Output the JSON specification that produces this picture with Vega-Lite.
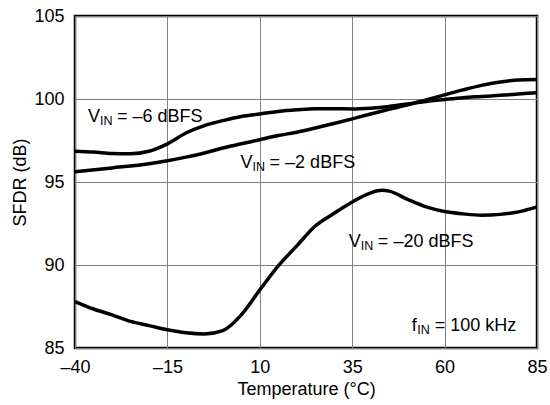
{
  "$schema": "https://vega.github.io/schema/vega-lite/v6.json",
  "width": 462,
  "height": 332,
  "autosize": "none",
  "padding": {"left": 75, "top": 16, "right": 13, "bottom": 57},
  "config": {
    "font": "Liberation Sans",
    "view": {"stroke": "black", "strokeWidth": 2.5},
    "axis": {"domain": false, "ticks": false, "grid": true, "gridColor": "#808080", "gridWidth": 1, "labelFlush": false, "labelOverlap": false, "labelFont": "Liberation Sans", "labelFontSize": 18, "labelColor": "black", "titleFont": "Liberation Sans", "titleFontSize": 18, "titleFontWeight": "normal", "titleColor": "black"}
  },
  "datasets": {
    "curves": [
      {"s": "-6", "t": -40, "v": 96.85}, {"s": "-6", "t": -35, "v": 96.8}, {"s": "-6", "t": -30, "v": 96.72}, {"s": "-6", "t": -25, "v": 96.7}, {"s": "-6", "t": -20, "v": 96.85}, {"s": "-6", "t": -15, "v": 97.3}, {"s": "-6", "t": -10, "v": 97.95}, {"s": "-6", "t": -5, "v": 98.4}, {"s": "-6", "t": 0, "v": 98.7}, {"s": "-6", "t": 5, "v": 98.95}, {"s": "-6", "t": 10, "v": 99.1}, {"s": "-6", "t": 15, "v": 99.25}, {"s": "-6", "t": 20, "v": 99.35}, {"s": "-6", "t": 25, "v": 99.42}, {"s": "-6", "t": 30, "v": 99.42}, {"s": "-6", "t": 35, "v": 99.4}, {"s": "-6", "t": 40, "v": 99.45}, {"s": "-6", "t": 45, "v": 99.55}, {"s": "-6", "t": 50, "v": 99.7}, {"s": "-6", "t": 55, "v": 99.85}, {"s": "-6", "t": 60, "v": 99.97}, {"s": "-6", "t": 65, "v": 100.08}, {"s": "-6", "t": 70, "v": 100.15}, {"s": "-6", "t": 75, "v": 100.22}, {"s": "-6", "t": 80, "v": 100.3}, {"s": "-6", "t": 85, "v": 100.38},
      {"s": "-2", "t": -40, "v": 95.62}, {"s": "-2", "t": -30, "v": 95.85}, {"s": "-2", "t": -20, "v": 96.1}, {"s": "-2", "t": -15, "v": 96.28}, {"s": "-2", "t": -10, "v": 96.5}, {"s": "-2", "t": -5, "v": 96.75}, {"s": "-2", "t": 0, "v": 97.05}, {"s": "-2", "t": 5, "v": 97.3}, {"s": "-2", "t": 10, "v": 97.55}, {"s": "-2", "t": 15, "v": 97.8}, {"s": "-2", "t": 20, "v": 98.0}, {"s": "-2", "t": 25, "v": 98.25}, {"s": "-2", "t": 30, "v": 98.52}, {"s": "-2", "t": 35, "v": 98.8}, {"s": "-2", "t": 40, "v": 99.1}, {"s": "-2", "t": 45, "v": 99.38}, {"s": "-2", "t": 50, "v": 99.65}, {"s": "-2", "t": 55, "v": 99.95}, {"s": "-2", "t": 60, "v": 100.25}, {"s": "-2", "t": 65, "v": 100.55}, {"s": "-2", "t": 70, "v": 100.82}, {"s": "-2", "t": 75, "v": 101.02}, {"s": "-2", "t": 80, "v": 101.15}, {"s": "-2", "t": 85, "v": 101.17},
      {"s": "-20", "t": -40, "v": 87.8}, {"s": "-20", "t": -35, "v": 87.35}, {"s": "-20", "t": -30, "v": 87.0}, {"s": "-20", "t": -25, "v": 86.6}, {"s": "-20", "t": -20, "v": 86.35}, {"s": "-20", "t": -15, "v": 86.1}, {"s": "-20", "t": -10, "v": 85.92}, {"s": "-20", "t": -5, "v": 85.85}, {"s": "-20", "t": 0, "v": 86.05}, {"s": "-20", "t": 5, "v": 87.0}, {"s": "-20", "t": 10, "v": 88.5}, {"s": "-20", "t": 15, "v": 89.95}, {"s": "-20", "t": 20, "v": 91.15}, {"s": "-20", "t": 25, "v": 92.35}, {"s": "-20", "t": 30, "v": 93.1}, {"s": "-20", "t": 35, "v": 93.8}, {"s": "-20", "t": 40, "v": 94.35}, {"s": "-20", "t": 43, "v": 94.5}, {"s": "-20", "t": 45, "v": 94.45}, {"s": "-20", "t": 50, "v": 93.95}, {"s": "-20", "t": 55, "v": 93.5}, {"s": "-20", "t": 60, "v": 93.22}, {"s": "-20", "t": 65, "v": 93.08}, {"s": "-20", "t": 70, "v": 93.0}, {"s": "-20", "t": 75, "v": 93.05}, {"s": "-20", "t": 80, "v": 93.2}, {"s": "-20", "t": 85, "v": 93.5}
    ],
    "labels": [
      {"kind": "V", "t": -36.5, "v": 98.92, "main": "V", "sub": "IN", "rest": "= \u20136 dBFS"},
      {"kind": "V", "t": 4.8, "v": 96.14, "main": "V", "sub": "IN", "rest": "= \u20132 dBFS"},
      {"kind": "V", "t": 34.1, "v": 91.4, "main": "V", "sub": "IN", "rest": "= \u201320 dBFS"},
      {"kind": "f", "t": 51.1, "v": 86.33, "main": "f", "sub": "IN", "rest": "= 100 kHz"}
    ]
  },
  "layer": [
    {
      "data": {"name": "curves"},
      "mark": {"type": "line", "color": "black", "strokeWidth": 3.5, "interpolate": "monotone"},
      "encoding": {
        "x": {"field": "t", "type": "quantitative", "scale": {"domain": [-40, 85], "nice": false}, "axis": {"values": [-40, -15, 10, 35, 60, 85], "labelExpr": "datum.value < 0 ? '\u2013' + abs(datum.value) : datum.value", "labelPadding": 10, "title": "Temperature (\u00b0C)", "titlePadding": 4}},
        "y": {"field": "v", "type": "quantitative", "scale": {"domain": [85, 105], "nice": false}, "axis": {"values": [85, 90, 95, 100, 105], "labelPadding": 11, "title": "SFDR (dB)", "titlePadding": 4}},
        "detail": {"field": "s"}
      }
    },
    {
      "data": {"name": "labels"},
      "mark": {"type": "text", "align": "left", "baseline": "middle", "fontSize": 18, "font": "Liberation Sans", "color": "black"},
      "encoding": {"x": {"field": "t", "type": "quantitative"}, "y": {"field": "v", "type": "quantitative"}, "text": {"field": "main"}}
    },
    {
      "data": {"name": "labels"},
      "transform": [{"filter": "datum.kind == 'V'"}],
      "mark": {"type": "text", "align": "left", "baseline": "middle", "fontSize": 12.5, "dx": 12, "dy": 4, "font": "Liberation Sans", "color": "black"},
      "encoding": {"x": {"field": "t", "type": "quantitative"}, "y": {"field": "v", "type": "quantitative"}, "text": {"field": "sub"}}
    },
    {
      "data": {"name": "labels"},
      "transform": [{"filter": "datum.kind == 'V'"}],
      "mark": {"type": "text", "align": "left", "baseline": "middle", "fontSize": 18, "dx": 29, "font": "Liberation Sans", "color": "black"},
      "encoding": {"x": {"field": "t", "type": "quantitative"}, "y": {"field": "v", "type": "quantitative"}, "text": {"field": "rest"}}
    },
    {
      "data": {"name": "labels"},
      "transform": [{"filter": "datum.kind == 'f'"}],
      "mark": {"type": "text", "align": "left", "baseline": "middle", "fontSize": 12.5, "dx": 5.5, "dy": 4, "font": "Liberation Sans", "color": "black"},
      "encoding": {"x": {"field": "t", "type": "quantitative"}, "y": {"field": "v", "type": "quantitative"}, "text": {"field": "sub"}}
    },
    {
      "data": {"name": "labels"},
      "transform": [{"filter": "datum.kind == 'f'"}],
      "mark": {"type": "text", "align": "left", "baseline": "middle", "fontSize": 18, "dx": 23, "font": "Liberation Sans", "color": "black"},
      "encoding": {"x": {"field": "t", "type": "quantitative"}, "y": {"field": "v", "type": "quantitative"}, "text": {"field": "rest"}}
    }
  ]
}
